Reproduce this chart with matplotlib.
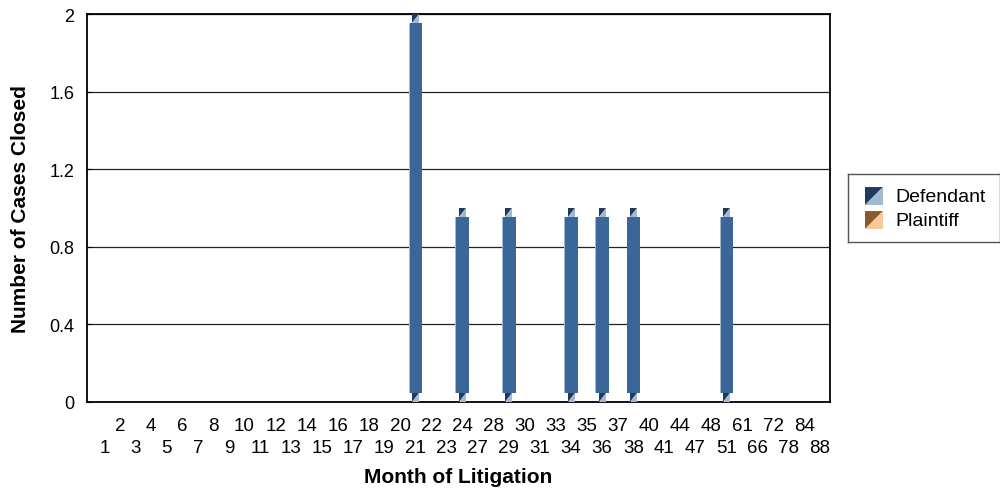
import numpy as np
import matplotlib.pyplot as plt
from matplotlib.patches import Polygon

plt.rcParams['font.family'] = ['Liberation Sans', 'DejaVu Sans']

months = [1, 2, 3, 4, 5, 6, 7, 8, 9, 10, 11, 12, 13, 14, 15, 16, 17, 18, 19, 20,
          21, 22, 23, 24, 27, 28, 29, 30, 31, 33, 34, 35, 36, 37, 38, 40, 41, 44,
          47, 48, 51, 61, 66, 72, 78, 84, 88]
defendant = {21: 2, 24: 1, 29: 1, 34: 1, 36: 1, 38: 1, 51: 1}
plaintiff = {}

def_vals = [defendant.get(m, 0) for m in months]
pla_vals = [plaintiff.get(m, 0) for m in months]

fig = plt.figure(figsize=(10, 4.89), dpi=100)
ax = fig.add_axes([0.087, 0.176, 0.743, 0.793])

x = np.arange(len(months))
body_w = 0.87
cap_w = 0.45
cap_h = 0.046

def draw_bars(vals, main, dark, light):
    for xi, v in zip(x, vals):
        if v <= 0:
            continue
        ax.bar(xi, v - 2 * cap_h, bottom=cap_h, width=body_w, color=main, zorder=3)
        ax.bar(xi - body_w / 2 + 0.03, v - 2 * cap_h, bottom=cap_h, width=0.06,
               color=light, zorder=3)
        for y0 in (0, v - cap_h):
            l, r = xi - cap_w / 2, xi + cap_w / 2
            ax.add_patch(Polygon([(l, y0), (l, y0 + cap_h), (r, y0 + cap_h)],
                                 closed=True, color=dark, zorder=3, lw=0))
            ax.add_patch(Polygon([(l, y0), (r, y0), (r, y0 + cap_h)],
                                 closed=True, color=light, zorder=3, lw=0))

draw_bars(def_vals, '#3a6698', '#1e3a5c', '#a3b8d3')
draw_bars(pla_vals, '#c8894a', '#8b5a2b', '#f6c99a')

ax.set_xlim(-1.13, 46.65)
ax.set_ylim(0, 2)
ax.set_yticks([0, 0.4, 0.8, 1.2, 1.6, 2])
ax.set_yticklabels(['0', '0.4', '0.8', '1.2', '1.6', '2'], fontsize=13)
ax.yaxis.grid(True, color='#222222', lw=0.9, zorder=1)
ax.tick_params(axis='y', length=3, direction='in', pad=9)
for s in ax.spines.values():
    s.set_linewidth(1.3)

# staggered month labels: odd positions on the upper row, even on the lower row
ax.set_xticks(x[0::2])
ax.set_xticklabels([str(m) for m in months[0::2]], fontsize=13.5)
ax.set_xticks(x[1::2], minor=True)
ax.set_xticklabels([str(m) for m in months[1::2]], minor=True, fontsize=13.5)
ax.tick_params(axis='x', which='major', length=0, pad=26.5)
ax.tick_params(axis='x', which='minor', length=0, pad=10.5)

ax.set_xlabel('Month of Litigation', fontsize=15, fontweight='bold', va='center')
ax.xaxis.set_label_coords(0.5, -0.191)
ax.set_ylabel('Number of Cases Closed', fontsize=15, fontweight='bold', va='center')
ax.yaxis.set_label_coords(-0.089, 0.5)

# legend
lax = fig.add_axes([0.848, 0.503, 0.152, 0.139])
lax.set_xlim(0, 152)
lax.set_ylim(68, 0)
lax.set_xticks([])
lax.set_yticks([])
for s in lax.spines.values():
    s.set_color('#555555')
    s.set_linewidth(1.0)
for yy, name, dark, light in [(13, 'Defendant', '#1e3a5c', '#a3b8d3'),
                              (37, 'Plaintiff', '#8b5a2b', '#f6c99a')]:
    lax.add_patch(Polygon([(17, yy), (35, yy), (17, yy + 18)], color=dark, lw=0))
    lax.add_patch(Polygon([(35, yy), (35, yy + 18), (17, yy + 18)], color=light, lw=0))
    lax.text(47, yy + 9, name, fontsize=14, va='center', ha='left')

fig.savefig('out.png', dpi=100)
